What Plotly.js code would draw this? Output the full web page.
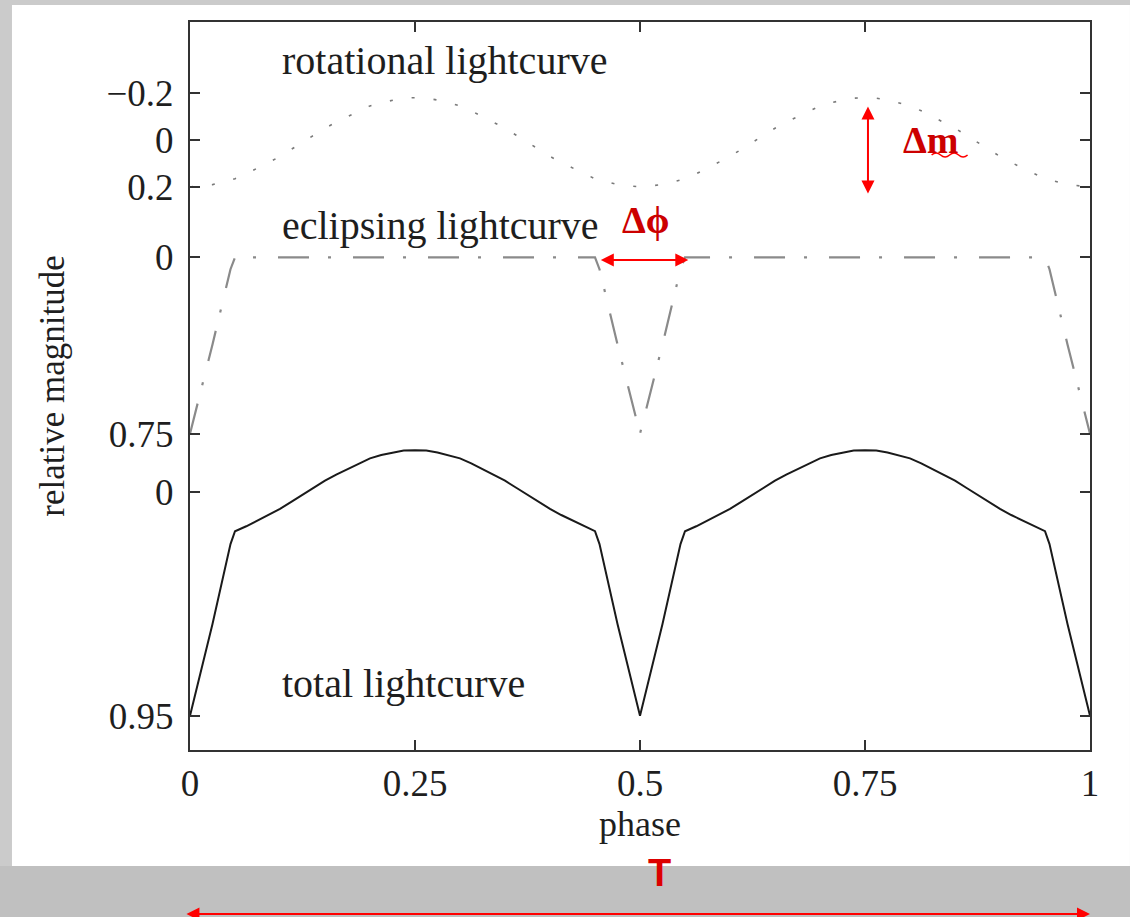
<!DOCTYPE html>
<html>
<head>
<meta charset="utf-8">
<script src="https://cdn.plot.ly/plotly-3.0.1.min.js"></script>
<style>
  html, body { margin: 0; padding: 0; background: #cbcbcb; }
  #chart { width: 1130px; height: 917px; }
</style>
</head>
<body>
<div id="chart"></div>
<script>
// Rotational light curve (dotted)
const rotPhase = [0, 0.025, 0.05, 0.0625, 0.075, 0.0875, 0.1, 0.1125, 0.125, 0.1375, 0.15, 0.1625,
  0.175, 0.1875, 0.2, 0.2125, 0.225, 0.2375, 0.25, 0.2625, 0.275, 0.2875, 0.3, 0.3125, 0.325,
  0.3375, 0.35, 0.3625, 0.375, 0.3875, 0.4, 0.4125, 0.425, 0.4375, 0.45, 0.475,
  0.5, 0.525, 0.55, 0.5625, 0.575, 0.5875, 0.6, 0.6125, 0.625, 0.6375, 0.65, 0.6625,
  0.675, 0.6875, 0.7, 0.7125, 0.725, 0.7375, 0.75, 0.7625, 0.775, 0.7875, 0.8, 0.8125, 0.825,
  0.8375, 0.85, 0.8625, 0.875, 0.8875, 0.9, 0.9125, 0.925, 0.9375, 0.95, 0.975, 1];
const rotMag = [0.20, 0.19, 0.165, 0.144, 0.12, 0.096, 0.07, 0.04, 0.01, -0.02, -0.05, -0.076,
  -0.10, -0.124, -0.145, -0.159, -0.17, -0.178, -0.18, -0.178, -0.17, -0.159, -0.145, -0.124, -0.10,
  -0.076, -0.05, -0.02, 0.01, 0.04, 0.07, 0.096, 0.12, 0.144, 0.165, 0.19,
  0.20, 0.19, 0.165, 0.144, 0.12, 0.096, 0.07, 0.04, 0.01, -0.02, -0.05, -0.076,
  -0.10, -0.124, -0.145, -0.159, -0.17, -0.178, -0.18, -0.178, -0.17, -0.159, -0.145, -0.124, -0.10,
  -0.076, -0.05, -0.02, 0.01, 0.04, 0.07, 0.096, 0.12, 0.144, 0.165, 0.19, 0.20];

// Eclipsing light curve (dash-dot): flat out of eclipse, V-shaped minima
const eclPhase = [0, 0.025, 0.045, 0.05, 0.45, 0.455, 0.475, 0.5,
  0.525, 0.545, 0.55, 0.95, 0.955, 0.975, 1];
const eclMag = [0.75, 0.37, 0.05, 0, 0, 0.05, 0.37, 0.75,
  0.37, 0.05, 0, 0, 0.05, 0.37, 0.75];

// Total light curve (solid)
const totPhase = [0, 0.025, 0.045, 0.05, 0.0625, 0.075, 0.0875, 0.1, 0.1125, 0.125, 0.1375, 0.15, 0.1625,
  0.175, 0.1875, 0.2, 0.2125, 0.225, 0.2375, 0.25, 0.2625, 0.275, 0.2875, 0.3, 0.3125, 0.325,
  0.3375, 0.35, 0.3625, 0.375, 0.3875, 0.4, 0.4125, 0.425, 0.4375, 0.45, 0.455, 0.475,
  0.5, 0.525, 0.545, 0.55, 0.5625, 0.575, 0.5875, 0.6, 0.6125, 0.625, 0.6375, 0.65, 0.6625,
  0.675, 0.6875, 0.7, 0.7125, 0.725, 0.7375, 0.75, 0.7625, 0.775, 0.7875, 0.8, 0.8125, 0.825,
  0.8375, 0.85, 0.8625, 0.875, 0.8875, 0.9, 0.9125, 0.925, 0.9375, 0.95, 0.955, 0.975, 1];
const totMag = [0.95, 0.56, 0.22, 0.165, 0.144, 0.12, 0.096, 0.07, 0.04, 0.01, -0.02, -0.05, -0.076,
  -0.10, -0.124, -0.145, -0.159, -0.17, -0.178, -0.18, -0.178, -0.17, -0.159, -0.145, -0.124, -0.10,
  -0.076, -0.05, -0.02, 0.01, 0.04, 0.07, 0.096, 0.12, 0.144, 0.165, 0.22, 0.56,
  0.95, 0.56, 0.22, 0.165, 0.144, 0.12, 0.096, 0.07, 0.04, 0.01, -0.02, -0.05, -0.076,
  -0.10, -0.124, -0.145, -0.159, -0.17, -0.178, -0.18, -0.178, -0.17, -0.159, -0.145, -0.124, -0.10,
  -0.076, -0.05, -0.02, 0.01, 0.04, 0.07, 0.096, 0.12, 0.144, 0.165, 0.22, 0.56, 0.95];

// The three panels share one reversed magnitude axis, each shifted by its own zero point
const panelOffset = { rotational: 0, eclipsing: 0.5, total: 1.5 };

// Tick labels per panel (local magnitudes)
const rotTicks = [-0.2, 0, 0.2];
const eclTicks = [0, 0.75];
const totTicks = [0, 0.95];
const xTicks = [0, 0.25, 0.5, 0.75, 1];
const xTickText = ['0', '0.25', '0.5', '0.75', '1'];

const fmt = v => (v < 0 ? '\u2212' + String(-v) : String(v));
const tickvals = [], ticktext = [];
[[rotTicks, panelOffset.rotational], [eclTicks, panelOffset.eclipsing], [totTicks, panelOffset.total]]
  .forEach(([ticks, off]) => ticks.forEach(t => { tickvals.push(t + off); ticktext.push(fmt(t)); }));

const shift = (arr, off) => arr.map(v => v + off);

const SERIF = '"Liberation Serif", "Times New Roman", serif';
const INK = '#1e1e1e';
const RED = '#ff0000';
const DARKRED = '#cc0000';

const traces = [
  {
    x: rotPhase, y: shift(rotMag, panelOffset.rotational), mode: 'lines', name: 'rotational',
    line: { color: '#7a7a7a', width: 1.6, dash: '3px,19px' }, hoverinfo: 'skip'
  },
  {
    x: eclPhase, y: shift(eclMag, panelOffset.eclipsing), mode: 'lines', name: 'eclipsing',
    line: { color: '#8a8a8a', width: 2.2, dash: '31px,19px,3px,22px' }, hoverinfo: 'skip'
  },
  {
    x: totPhase, y: shift(totMag, panelOffset.total), mode: 'lines', name: 'total',
    line: { color: '#1a1a1a', width: 2, shape: 'linear' }, hoverinfo: 'skip'
  }
];

const layout = {
  width: 1130, height: 917,
  margin: { l: 190, r: 40, t: 22, b: 167, pad: 0 },
  paper_bgcolor: '#cbcbcb',
  plot_bgcolor: '#ffffff',
  showlegend: false,
  font: { family: SERIF, color: INK, size: 37 },
  xaxis: {
    range: [0, 1], tickvals: xTicks, ticktext: xTickText,
    ticks: 'inside', ticklen: 10, tickwidth: 2, tickcolor: '#333',
    showline: true, linewidth: 2, linecolor: '#333', mirror: 'ticks',
    showgrid: false, zeroline: false,
    tickfont: { family: SERIF, size: 37, color: INK },
    ticklabelstandoff: 0,
    title: { text: 'phase', font: { family: SERIF, size: 36, color: INK }, standoff: 7 }
  },
  yaxis: {
    range: [2.596, -0.502], tickvals: tickvals, ticktext: ticktext,
    ticks: 'inside', ticklen: 10, tickwidth: 2, tickcolor: '#333',
    showline: true, linewidth: 2, linecolor: '#333', mirror: 'ticks',
    showgrid: false, zeroline: false,
    tickfont: { family: SERIF, size: 37, color: INK },
    ticklabelstandoff: 7,
    title: { text: 'relative magnitude', font: { family: SERIF, size: 35, color: INK }, standoff: 31 }
  },
  shapes: [
    // white page area and the darker band underneath it
    { type: 'rect', xref: 'paper', yref: 'paper', layer: 'below',
      x0: -0.1978, x1: 1.0444, y0: -0.1593, y1: 1.0234, fillcolor: '#ffffff', line: { width: 0 } },
    { type: 'rect', xref: 'paper', yref: 'paper', layer: 'below',
      x0: -0.2111, x1: 1.0444, y0: -0.2294, y1: -0.1593, fillcolor: '#c0c0c0', line: { width: 0 } },
    // wavy underline beneath the "m" of the delta-m label
    { type: 'path', xref: 'x', yref: 'y', layer: 'above',
      path: 'M 0.824,0.064 Q 0.829,0.047 0.834,0.064 Q 0.839,0.081 0.844,0.064 Q 0.849,0.047 0.854,0.064 Q 0.859,0.081 0.864,0.064',
      line: { color: RED, width: 1.5 } }
  ],
  annotations: [
    { x: 0.1, y: -0.34, xref: 'x', yref: 'y', xanchor: 'left', yanchor: 'middle', showarrow: false,
      text: 'rotational lightcurve', font: { family: SERIF, size: 40, color: INK } },
    { x: 0.1, y: 0.362, xref: 'x', yref: 'y', xanchor: 'left', yanchor: 'middle', showarrow: false,
      text: 'eclipsing lightcurve', font: { family: SERIF, size: 40, color: INK } },
    { x: 0.1, y: 2.315, xref: 'x', yref: 'y', xanchor: 'left', yanchor: 'middle', showarrow: false,
      text: 'total lightcurve', font: { family: SERIF, size: 40, color: INK } },
    // amplitude of the rotational variation
    { x: 0.7533, y: -0.142, xref: 'x', yref: 'y', ax: 0.7533, ay: 0.234, axref: 'x', ayref: 'y',
      text: '', showarrow: true, arrowside: 'end+start', arrowhead: 2, arrowsize: 1.3,
      arrowwidth: 2, arrowcolor: RED, standoff: 0, startstandoff: 0 },
    { x: 0.79, y: 0.0, xref: 'x', yref: 'y', xanchor: 'left', yanchor: 'middle', showarrow: false,
      text: '<b>\u0394m</b>', font: { family: SERIF, size: 38, color: DARKRED } },
    // eclipse duration
    { x: 0.5537, y: 0.5106, xref: 'x', yref: 'y', ax: 0.4548, ay: 0.5106, axref: 'x', ayref: 'y',
      text: '', showarrow: true, arrowside: 'end+start', arrowhead: 2, arrowsize: 1.3,
      arrowwidth: 2, arrowcolor: RED, standoff: 0, startstandoff: 0 },
    { x: 0.478, y: 0.34, xref: 'x', yref: 'y', xanchor: 'left', yanchor: 'middle', showarrow: false,
      text: '<b>\u0394\u03d5</b>', font: { family: SERIF, size: 38, color: DARKRED } },
    // period
    { x: 0.522, y: -0.169, xref: 'paper', yref: 'paper', xanchor: 'center', yanchor: 'middle', showarrow: false,
      text: '<b>T</b>', font: { family: '"Liberation Sans", Arial, sans-serif', size: 38, color: '#dd0000' } },
    { x: 1.0, y: -0.2253, xref: 'x', yref: 'paper', ax: -0.0056, axref: 'x', ay: 0, ayref: 'pixel',
      text: '', showarrow: true, arrowside: 'end+start', arrowhead: 2, arrowsize: 1.3,
      arrowwidth: 2, arrowcolor: RED, standoff: 0, startstandoff: 0 }
  ]
};

Plotly.newPlot('chart', traces, layout, { staticPlot: true, displayModeBar: false });
</script>
</body>
</html>
